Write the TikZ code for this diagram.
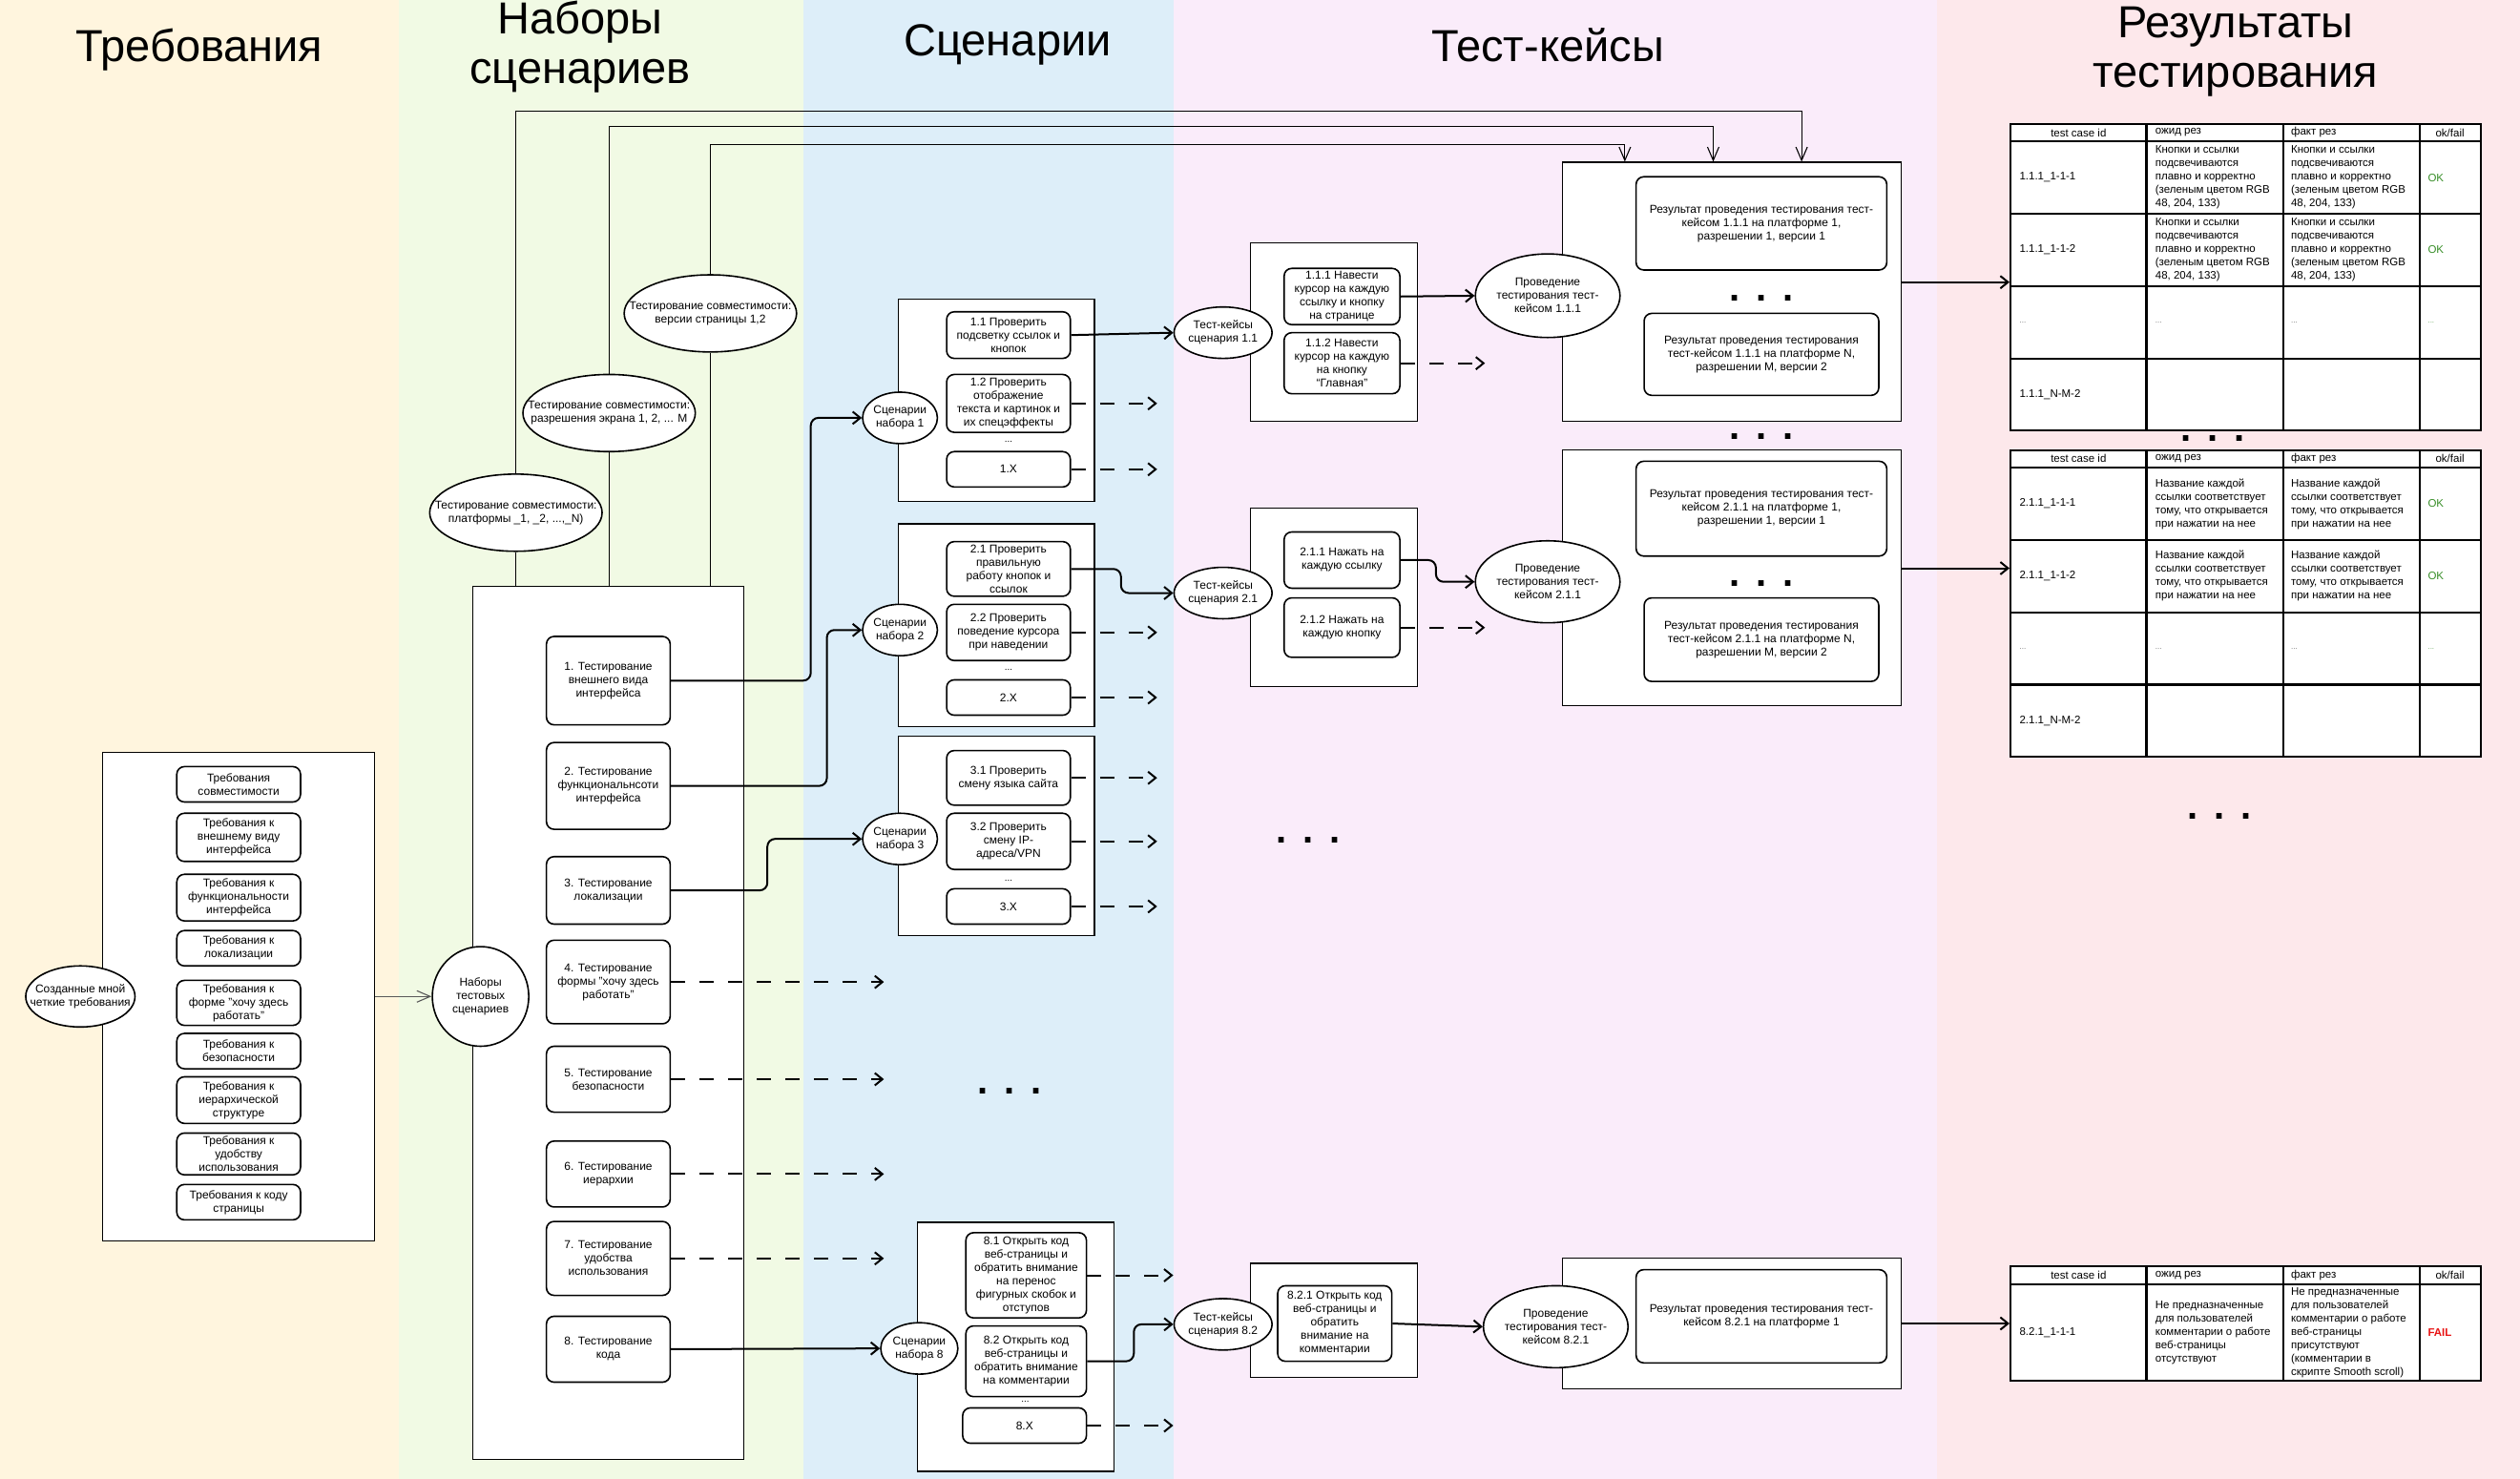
\documentclass[tikz,border=0pt]{standalone}
\usepackage{fontspec}
\setmainfont{Liberation Sans}
\usetikzlibrary{positioning, shapes.geometric, arrows.meta}

\definecolor{reqbg}{RGB}{255,245,222}
\definecolor{setbg}{RGB}{241,250,228}
\definecolor{scbg}{RGB}{221,238,249}
\definecolor{tcbg}{RGB}{250,236,250}
\definecolor{resbg}{RGB}{253,232,235}
\definecolor{okgreen}{RGB}{56,142,40}
\definecolor{failred}{RGB}{232,20,20}

\tikzset{
    rbox/.style={
        draw, fill=white,
        rounded corners=8pt,
        line width=1.6pt, % рамка блока
        align=center,
        inner sep=0pt,
        font=\fontsize{12}{14}\selectfont
    },
    oval/.style={
        ellipse, draw, fill=white,
        line width=1.6pt,
        align=center,
        inner sep=0pt,
        font=\fontsize{12}{14}\selectfont
    },
    panel/.style={draw, fill=white, line width=1.3pt, inner sep=0pt},
    dims/.style 2 args={minimum width=#1*1.6843pt, minimum height=#2*1.6843pt},
    conn/.style={
        line width=2pt, rounded corners=8pt,
        -{Straight Barb[length=8pt, width=13pt, line width=2pt]}
    },
    dconn/.style={conn, dash pattern=on 15pt off 15pt},
    thinarr/.style={
        line width=1.1pt,
        -{Straight Barb[length=14pt, width=12pt, line width=1.1pt]}
    },
    colhead/.style={font=\fontsize{47}{52}\selectfont, align=center},
    dotrow/.style={font=\fontsize{40}{40}\selectfont\bfseries, anchor=base},
    cell/.style={
        anchor=west, align=left, inner sep=0pt,
        font=\fontsize{11.5}{14}\selectfont
    },
    tinydots/.style={cell, font=\fontsize{8}{9}\selectfont, text=black!55},
    tabline/.style={line width=2.2pt}
}

\newcommand{\tdots}{.\hspace{17pt}.\hspace{17pt}.}
\newcommand{\glowtxt}{Кнопки и ссылки\\подсвечиваются\\плавно и корректно\\(зеленым цветом RGB\\48, 204, 133)}
\newcommand{\linktxt}{Название каждой\\ссылки соответствует\\тому, что открывается\\при нажатии на нее}
\newcommand{\reshead}[2]{%
    \node[cell, anchor=center] (#1id) at (1293.3,#2) {test case id};
    \node[cell] (#1exp) at (1341,#2) {ожид рез};
    \node[cell] (#1act) at (1425.4,#2) {факт рез};
    \node[cell, anchor=center] (#1ok) at (1524.4,#2) {ok/fail};
}
\newcommand{\resgrid}[3]{%
    \foreach \x in {1335.6,1420.6,1505.8} \draw[tabline] (\x,#1) -- (\x,#2);
    \foreach \y in {#3} \draw[tabline] (1251,\y) -- (1543.5,\y);
}

\begin{document}
\begin{tikzpicture}[x=1.6843pt, y=-1.6843pt]
    \useasboundingbox (0,0) rectangle (1568,920);
    % фон колонок
    \fill[reqbg] (0,0) rectangle (248,920);
    \fill[setbg] (248,0) rectangle (500,920);
    \fill[scbg] (500,0) rectangle (730,920);
    \fill[tcbg] (730,0) rectangle (1205,920);
    \fill[resbg] (1205,0) rectangle (1568,920);

    % заголовки
    \node[colhead] (h1) at (124,31) {Требования};
    \node[colhead] (h2) at (361,29) {Наборы\\сценариев};
    \node[colhead] (h3) at (627,28) {Сценарии};
    \node[colhead] (h4) at (963,28) {Тест-кейсы};
    \node[colhead] (h5) at (1391,32) {Результаты\\тестирования};

    % требования
    \node[panel, dims={169}{304}] (reqs) at (148.5,620) {};
    \foreach \y/\h/\t [count=\i] in {
        488/22/{Требования\\совместимости},
        521/30/{Требования к\\внешнему виду\\интерфейса},
        558.5/29/{Требования к\\функциональности\\интерфейса},
        590/22/{Требования к\\локализации},
        624/28/{Требования к\\форме "хочу здесь\\работать"},
        654/22/{Требования к\\безопасности},
        684.5/29/{Требования к\\иерархической\\структуре},
        718/26/{Требования к\\удобству\\использования},
        748/22/{Требования к коду\\страницы}}
        \node[rbox, dims={77}{\h}] (req\i) at (148.5,\y) {\t};
    \node[oval, dims={68}{38}, inner xsep=-12pt] (made) at (50,620) {Созданные мной\\четкие требования};

    % наборы сценариев
    \node[panel, dims={169}{543}] (sets) at (378.5,636.5) {};
    \node[oval, dims={60}{62}] (nabo) at (299,620) {Наборы\\тестовых\\сценариев};
    \foreach \y/\h/\t [count=\i] in {
        423.5/55/{1. Тестирование\\внешнего вида\\интерфейса},
        489/54/{2. Тестирование\\функциональнсоти\\интерфейса},
        554/42/{3. Тестирование\\локализации},
        611/52/{4. Тестирование\\формы "хочу здесь\\работать"},
        671.5/41/{5. Тестирование\\безопасности},
        730.5/41/{6. Тестирование\\иерархии},
        783/46/{7. Тестирование\\удобства\\использования},
        839.5/41/{8. Тестирование\\кода}}
        \node[rbox, dims={77}{\h}] (n\i) at (378.5,\y) {\t};

    % совместимость
    \node[oval, dims={107}{48}, inner xsep=-21pt] (cv) at (442,195) {Тестирование совместимости:\\версии страницы 1,2};
    \node[oval, dims={106}{48}, inner xsep=-21pt] (cr) at (379,257) {Тестирование совместимости:\\разрешения экрана 1, 2, ... M};
    \node[oval, dims={107}{48}, inner xsep=-21pt] (cpl) at (321,319) {Тестирование совместимости:\\платформы \_1, \_2, ...,\_N)};

    % сценарии
    \node[panel, dims={122}{126}] (set1) at (620,249) {};
    \node[panel, dims={122}{126}] (set2) at (620,389) {};
    \node[panel, dims={122}{124}] (set3) at (620,520) {};
    \node[panel, dims={122}{155}] (set8) at (632,838) {};
    \node[oval, dims={46}{32}] (sc1) at (560,260) {Сценарии\\набора 1};
    \node[oval, dims={46}{32}] (sc2) at (560,392) {Сценарии\\набора 2};
    \node[oval, dims={46}{32}] (sc3) at (560,522) {Сценарии\\набора 3};
    \node[oval, dims={48}{32}] (sc8) at (572,839) {Сценарии\\набора 8};

    \node[rbox, dims={77}{29}] (s11) at (627.5,208.5) {1.1 Проверить\\подсветку ссылок и\\кнопок};
    \node[rbox, dims={77}{36}] (s12) at (627.5,251) {1.2 Проверить\\отображение\\текста и картинок и\\их спецэффекты};
    \node (e1) at (627.5,275) {...};
    \node[rbox, dims={77}{22}] (s1x) at (627.5,292) {1.X};
    \node[rbox, dims={77}{34}] (s21) at (627.5,354) {2.1 Проверить\\правильную\\работу кнопок и\\ссылок};
    \node[rbox, dims={77}{35}] (s22) at (627.5,393.5) {2.2 Проверить\\поведение курсора\\при наведении};
    \node (e2) at (627.5,417) {...};
    \node[rbox, dims={77}{22}] (s2x) at (627.5,434) {2.X};
    \node[rbox, dims={77}{34}] (s31) at (627.5,484) {3.1 Проверить\\смену языка сайта};
    \node[rbox, dims={77}{35}] (s32) at (627.5,523.5) {3.2 Проверить\\смену IP-\\адреса/VPN};
    \node (e3) at (627.5,548) {...};
    \node[rbox, dims={77}{22}] (s3x) at (627.5,564) {3.X};
    \node[rbox, dims={75}{53}] (s81) at (638.5,793.5) {8.1 Открыть код\\веб-страницы и\\обратить внимание\\на перенос\\фигурных скобок и\\отступов};
    \node[rbox, dims={75}{44}] (s82) at (638.5,847) {8.2 Открыть код\\веб-страницы и\\обратить внимание\\на комментарии};
    \node (e8) at (638,872) {...};
    \node[rbox, dims={77}{22}] (s8x) at (637.5,887) {8.X};

    % тест-кейсы
    \node[panel, dims={104}{111}] (tcr1) at (830,206.5) {};
    \node[panel, dims={104}{111}] (tcr2) at (830,371.5) {};
    \node[panel, dims={104}{71}] (tcr8) at (830,821.5) {};
    \node[oval, dims={60}{32}] (tc1) at (761,207) {Тест-кейсы\\сценария 1.1};
    \node[oval, dims={60}{32}] (tc2) at (761,369) {Тест-кейсы\\сценария 2.1};
    \node[oval, dims={60}{32}] (tc8) at (761,824) {Тест-кейсы\\сценария 8.2};
    \node[rbox, dims={72}{35}] (b111) at (835,184.5) {1.1.1 Навести\\курсор на каждую\\ссылку и кнопку\\на странице};
    \node[rbox, dims={72}{38}] (b112) at (835,226) {1.1.2 Навести\\курсор на каждую\\на кнопку\\``Главная''};
    \node[rbox, dims={72}{35}] (b211) at (835,348.5) {2.1.1 Нажать на\\каждую ссылку};
    \node[rbox, dims={72}{37}] (b212) at (835,390.5) {2.1.2 Нажать на\\каждую кнопку};
    \node[rbox, dims={71}{47}] (b821) at (830.5,823.5) {8.2.1 Открыть код\\веб-страницы и\\обратить\\внимание на\\комментарии};

    % проведение тестирования
    \node[panel, dims={211}{161}] (res1) at (1077.5,181.5) {};
    \node[panel, dims={211}{159}] (res2) at (1077.5,359.5) {};
    \node[panel, dims={211}{81}] (res8) at (1077.5,823.5) {};
    \node[oval, dims={89}{52}] (pt1) at (963,184) {Проведение\\тестирования тест-\\кейсом 1.1.1};
    \node[oval, dims={89}{51}] (pt2) at (963,362) {Проведение\\тестирования тест-\\кейсом 2.1.1};
    \node[oval, dims={88}{51}] (pt8) at (968,825.5) {Проведение\\тестирования тест-\\кейсом 8.2.1};
    \begin{scope}[every node/.append style={font=\fontsize{11.5}{13.5}\selectfont}]
        \node[rbox, dims={156}{58}] (r1a) at (1096,139) {Результат проведения тестирования тест-\\кейсом 1.1.1 на платформе 1,\\разрешении 1, версии 1};
        \node[rbox, dims={146}{51}] (r1b) at (1096,220.5) {Результат проведения тестирования\\тест-кейсом 1.1.1 на платформе N,\\разрешении M, версии 2};
        \node[rbox, dims={156}{59}] (r2a) at (1096,316.5) {Результат проведения тестирования тест-\\кейсом 2.1.1 на платформе 1,\\разрешении 1, версии 1};
        \node[rbox, dims={146}{52}] (r2b) at (1096,398) {Результат проведения тестирования\\тест-кейсом 2.1.1 на платформе N,\\разрешении M, версии 2};
        \node[rbox, dims={156}{58}] (r8a) at (1096,819) {Результат проведения тестирования тест-\\кейсом 8.2.1 на платформе 1};
    \end{scope}

    % многоточия
    \node[dotrow] (g1) at (1096,187.6) {\tdots};
    \node[dotrow] (g2) at (1096,273.6) {\tdots};
    \node[dotrow] (g3) at (1096,364.6) {\tdots};
    \node[dotrow] (g4) at (1377,274.6) {\tdots};
    \node[dotrow] (g5) at (1381,509.6) {\tdots};
    \node[dotrow] (g6) at (814,524.6) {\tdots};
    \node[dotrow] (g7) at (628,680.6) {\tdots};

    % таблица 1
    \node[panel, dims={292.5}{191}, line width=2.2pt] (tab1) at (1397.25,172.5) {};
    \resgrid{77}{268}{88,133,178,223}
    \reshead{ta}{82.5}
    \node[cell] (a11) at (1256.5,110.5) {1.1.1\_1-1-1};
    \node[cell] (a12) at (1341,110.5) {\glowtxt};
    \node[cell] (a13) at (1425.4,110.5) {\glowtxt};
    \node[cell, text=okgreen] (a14) at (1510.6,110.5) {OK};
    \node[cell] (a21) at (1256.5,155.5) {1.1.1\_1-1-2};
    \node[cell] (a22) at (1341,155.5) {\glowtxt};
    \node[cell] (a23) at (1425.4,155.5) {\glowtxt};
    \node[cell, text=okgreen] (a24) at (1510.6,155.5) {OK};
    \node[tinydots] (a31) at (1256.5,200.5) {...};
    \node[tinydots] (a32) at (1341,200.5) {...};
    \node[tinydots] (a33) at (1425.4,200.5) {...};
    \node[tinydots, text=okgreen!70] (a34) at (1510.6,200.5) {...};
    \node[cell] (a41) at (1256.5,245.5) {1.1.1\_N-M-2};

    % таблица 2
    \node[panel, dims={292.5}{191}, line width=2.2pt] (tab2) at (1397.25,375.5) {};
    \resgrid{280}{471}{291,336,381,426}
    \reshead{tb}{285.5}
    \node[cell] (b11) at (1256.5,313.5) {2.1.1\_1-1-1};
    \node[cell] (b12) at (1341,313.5) {\linktxt};
    \node[cell] (b13) at (1425.4,313.5) {\linktxt};
    \node[cell, text=okgreen] (b14) at (1510.6,313.5) {OK};
    \node[cell] (b21) at (1256.5,358.5) {2.1.1\_1-1-2};
    \node[cell] (b22) at (1341,358.5) {\linktxt};
    \node[cell] (b23) at (1425.4,358.5) {\linktxt};
    \node[cell, text=okgreen] (b24) at (1510.6,358.5) {OK};
    \node[tinydots] (b31) at (1256.5,403.5) {...};
    \node[tinydots] (b32) at (1341,403.5) {...};
    \node[tinydots] (b33) at (1425.4,403.5) {...};
    \node[tinydots, text=okgreen!70] (b34) at (1510.6,403.5) {...};
    \node[cell] (b41) at (1256.5,448.5) {2.1.1\_N-M-2};

    % таблица 3
    \node[panel, dims={292.5}{71}, line width=2.2pt] (tab3) at (1397.25,823.5) {};
    \resgrid{788}{859}{799}
    \reshead{tc}{793.5}
    \node[cell] (c11) at (1256.5,829) {8.2.1\_1-1-1};
    \node[cell] (c12) at (1341,829) {Не предназначенные\\для пользователей\\комментарии о работе\\веб-страницы\\отсутствуют};
    \node[cell] (c13) at (1425.4,829) {Не предназначенные\\для пользователей\\комментарии о работе\\веб-страницы\\присутствуют\\(комментарии в\\скрипте Smooth scroll)};
    \node[cell, text=failred, font=\fontsize{11.5}{14}\selectfont\bfseries] (c14) at (1510.6,829) {FAIL};

    % концы пунктирных стрелок
    \coordinate (nend) at (550,0);
    \coordinate (send) at (720,0);
    \coordinate (s8end) at (730,0);
    \coordinate (tend) at (924,0);
    \coordinate (kp) at (1121,69);
    \coordinate (kr) at (1066,78.5);
    \coordinate (kv) at (1011,90);

    % связи
    \draw[thinarr, draw=black!65] (reqs.east) -- (nabo.west);
    \draw[line width=1.1pt] (sets.north -| cpl.south) -- (cpl.south);
    \draw[line width=1.1pt] (sets.north -| cr.south) -- (cr.south);
    \draw[line width=1.1pt] (sets.north -| cv.south) -- (cv.south);
    \draw[thinarr] (cpl.north) |- (kp) -- (kp |- res1.north);
    \draw[thinarr] (cr.north) |- (kr) -- (kr |- res1.north);
    \draw[thinarr] (cv.north) |- (kv) -- (kv |- res1.north);

    \draw[conn] (n1.east) -- ++(87,0) |- (sc1.west);
    \draw[conn] (n2.east) -- ++(97,0) |- (sc2.west);
    \draw[conn] (n3.east) -- ++(60,0) |- (sc3.west);
    \draw[conn] (n8.east) -- (sc8.west);
    \foreach \b in {n4,n5,n6,n7}
        \draw[dconn] (\b.east) -- (\b.east -| nend);

    \draw[conn] (s11.east) -- (tc1.west);
    \draw[conn] (s21.east) -- ++(31,0) |- (tc2.west);
    \draw[conn] (s82.east) -- ++(29,0) |- (tc8.west);
    \foreach \b in {s12,s1x,s22,s2x,s31,s32,s3x}
        \draw[dconn] (\b.east) -- (\b.east -| send);
    \foreach \b in {s81,s8x}
        \draw[dconn] (\b.east) -- (\b.east -| s8end);

    \draw[conn] (b111.east) -- (pt1.west);
    \draw[conn] (b211.east) -- ++(22,0) |- (pt2.west);
    \draw[conn] (b821.east) -- (pt8.west);
    \foreach \b in {b112,b212}
        \draw[dconn] (\b.east) -- (\b.east -| tend);

    \draw[conn] ([yshift=10pt]res1.east) coordinate (o1) -- (o1 -| tab1.west);
    \draw[conn] ([yshift=10pt]res2.east) coordinate (o2) -- (o2 -| tab2.west);
    \draw[conn] (res8.east) -- (res8.east -| tab3.west);
\end{tikzpicture}
\end{document}
